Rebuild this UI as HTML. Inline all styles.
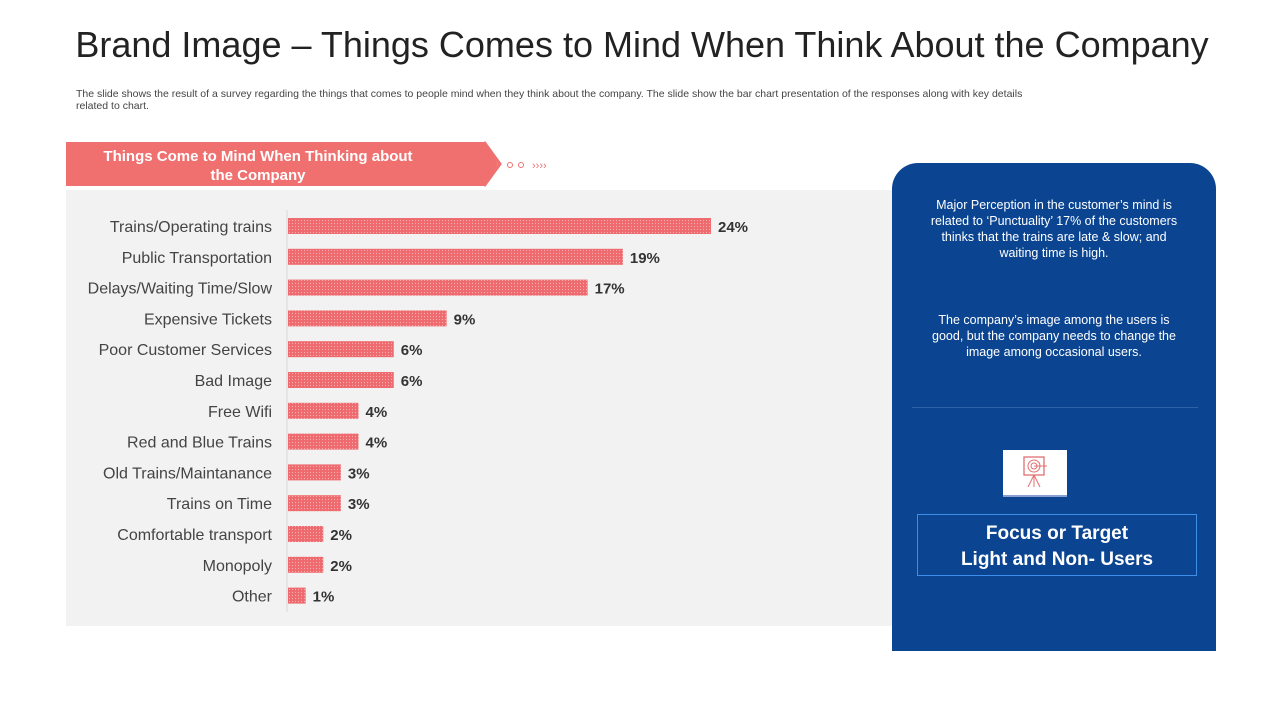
<!DOCTYPE html>
<html><head><meta charset="utf-8">
<style>
body{margin:0;width:1280px;height:720px;background:#fff;font-family:"Liberation Sans",sans-serif;position:relative;overflow:hidden}
.abs{position:absolute}
#title{left:0;width:1284px;top:24px;text-align:center;font-size:36px;color:#222}
#sub{left:76px;top:88px;width:970px;font-size:10.5px;color:#444;line-height:12px}
#chartbg{left:66px;top:190px;width:826px;height:436px;background:#f2f2f2}
#blue{left:892px;top:163px;width:324px;height:488px;background:#0b4592;border-radius:26px 26px 0 0}
.btxt{color:#fff;font-size:12.5px;text-align:center;line-height:16px;width:250px;left:929px}
</style></head><body>
<div id="title" class="abs">Brand Image – Things Comes to Mind When Think About the Company</div>
<div id="sub" class="abs">The slide shows the result of a survey regarding the things that comes to people mind when they think about the company. The slide show the bar chart presentation of the responses along with key details related to chart.</div>
<div id="chartbg" class="abs"></div>
<svg class="abs" style="left:0;top:0" width="1280" height="720">
<polygon points="66,142 484,142 498,164 484,186 66,186" fill="#f07070"/>
<polyline points="484,142 500,164 484,186" fill="none" stroke="#f07070" stroke-width="3"/>
<circle cx="510" cy="165" r="2.5" fill="none" stroke="#f07070"/>
<circle cx="521" cy="165" r="2.5" fill="none" stroke="#f07070"/>
<text x="532" y="169" font-size="11" fill="#f07070" font-family="Liberation Sans">››››</text>
<text x="258" y="161" text-anchor="middle" font-size="15" font-weight="bold" fill="#fff" font-family="Liberation Sans">Things Come to Mind When Thinking about</text>
<text x="258" y="180" text-anchor="middle" font-size="15" font-weight="bold" fill="#fff" font-family="Liberation Sans">the Company</text>
</svg>
<svg id="chart" class="abs" style="left:0;top:0" width="1280" height="720">
<defs><pattern id="dots" width="3" height="3" patternUnits="userSpaceOnUse"><rect width="3" height="3" fill="#ee6a6e"/><circle cx="1.5" cy="1.5" r="0.6" fill="#f7b0b2"/></pattern></defs>
<line x1="287" y1="210" x2="287" y2="612" stroke="#d8d8d8"/>
</svg>
<div id="blue" class="abs"></div>
<div class="abs btxt" style="top:197px">Major Perception in the customer’s mind is related to ‘Punctuality’ 17% of the customers thinks that the trains are late &amp; slow; and waiting time is high.</div>
<div class="abs btxt" style="top:312px">The company’s image among the users is good, but the company needs to change the image among occasional users.</div>
<div class="abs" style="left:912px;top:407px;width:286px;height:1px;background:#2e62a8"></div>
<div class="abs" style="left:1003px;top:450px;width:64px;height:45px;background:#fff;border-bottom:2px solid #8aa0d0">
<svg width="64" height="45"><rect x="21" y="7" width="20" height="18" fill="none" stroke="#e07070" stroke-width="1.3"/><circle cx="31" cy="16" r="6" fill="none" stroke="#e07070"/><circle cx="31" cy="16" r="3" fill="none" stroke="#e07070"/><line x1="31" y1="16" x2="44" y2="16" stroke="#e07070"/><line x1="31" y1="25" x2="25" y2="37" stroke="#e07070"/><line x1="31" y1="25" x2="37" y2="37" stroke="#e07070"/><line x1="31" y1="25" x2="31" y2="37" stroke="#e07070"/></svg></div>
<div class="abs" style="left:917px;top:514px;width:280px;color:#fff;font-weight:bold;font-size:19px;text-align:center;line-height:26px;padding-top:6px;box-sizing:border-box;height:62px;border:1px solid #3d8ee8">Focus or Target<br>Light and Non- Users</div>
<script>
const categories=["Trains/Operating trains","Public Transportation","Delays/Waiting Time/Slow","Expensive Tickets","Poor Customer Services","Bad Image","Free Wifi","Red and Blue Trains","Old Trains/Maintanance","Trains on Time","Comfortable transport","Monopoly","Other"];
const values=[24,19,17,9,6,6,4,4,3,3,2,2,1];
const valueLabels=["24%","19%","17%","9%","6%","6%","4%","4%","3%","3%","2%","2%","1%"];
const svg=document.getElementById('chart');const NS='http://www.w3.org/2000/svg';
const x0=288,pxPer=423/24,y0=226,step=30.8,bh=16;
const xS=v=>x0+v*pxPer, yS=i=>y0+i*step;
categories.forEach((c,i)=>{
 const y=yS(i);
 const t=document.createElementNS(NS,'text');t.setAttribute('x',272);t.setAttribute('y',y+6);t.setAttribute('text-anchor','end');t.setAttribute('font-size','16');t.setAttribute('fill','#444');t.setAttribute('font-family','Liberation Sans');t.textContent=c;
 
 
 svg.appendChild(t);
 const r=document.createElementNS(NS,'rect');r.setAttribute('x',x0);r.setAttribute('y',y-bh/2);r.setAttribute('width',xS(values[i])-x0);r.setAttribute('height',bh);r.setAttribute('fill','url(#dots)');
 
 
 svg.appendChild(r);
 const v=document.createElementNS(NS,'text');v.setAttribute('x',xS(values[i])+7);v.setAttribute('y',y+6);v.setAttribute('font-size','15');v.setAttribute('font-weight','bold');v.setAttribute('fill','#333');v.setAttribute('font-family','Liberation Sans');v.textContent=valueLabels[i];
 
 
 svg.appendChild(v);
});
</script>
</body></html>
